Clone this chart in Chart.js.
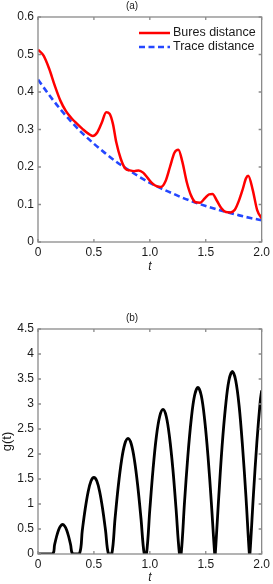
<!DOCTYPE html>
<html>
<head>
<meta charset="utf-8">
<script src="https://cdn.jsdelivr.net/npm/chart.js@4.4.1/dist/chart.umd.min.js"></script>
<style>
  html, body { margin: 0; padding: 0; background: #fff; }
  canvas { display: block; }
</style>
</head>
<body>
<canvas id="chartA" width="273" height="290"></canvas>
<canvas id="chartB" width="273" height="294"></canvas>
<script>
// Panel (a): Bures and trace distance
const tBures = [0, 0.05, 0.1, 0.15, 0.2, 0.25, 0.3, 0.35, 0.4, 0.45, 0.49, 0.53, 0.57, 0.61, 0.64, 0.67,
    0.70, 0.74, 0.78, 0.82, 0.86, 0.9, 0.94, 0.98, 1.02, 1.06, 1.10, 1.14, 1.18, 1.22, 1.255, 1.29,
    1.33, 1.37, 1.41, 1.45, 1.49, 1.53, 1.56, 1.60, 1.64, 1.68, 1.72, 1.76, 1.80, 1.83, 1.86, 1.88,
    1.92, 1.96, 2.0];
const bures = [0.513, 0.497, 0.462, 0.417, 0.377, 0.349, 0.330, 0.315, 0.301, 0.289, 0.283, 0.292,
    0.318, 0.346, 0.342, 0.315, 0.266, 0.222, 0.196, 0.191, 0.189, 0.191, 0.185, 0.171, 0.157, 0.149,
    0.147, 0.162, 0.200, 0.238, 0.246, 0.215, 0.160, 0.123, 0.106, 0.105, 0.116, 0.127, 0.128, 0.110,
    0.090, 0.080, 0.079, 0.086, 0.113, 0.140, 0.170, 0.177, 0.139, 0.085, 0.063];
const tTrace = [0, 0.1, 0.2, 0.3, 0.4, 0.5, 0.6, 0.7, 0.8, 0.9, 1.0, 1.1, 1.2, 1.3, 1.4, 1.5, 1.6, 1.7, 1.8, 1.9, 2.0];
const trace = [0.433, 0.392, 0.354, 0.320, 0.289, 0.262, 0.237, 0.214, 0.194, 0.175, 0.158, 0.143,
    0.130, 0.117, 0.106, 0.096, 0.087, 0.079, 0.071, 0.064, 0.058];

// Panel (b): g(t)
const tG = [0, 0.13, 0.148, 0.166, 0.184, 0.202, 0.22, 0.238, 0.256, 0.274, 0.292, 0.31,
    0.37, 0.396, 0.422, 0.448, 0.474, 0.5, 0.526, 0.552, 0.578, 0.604, 0.63,
    0.66, 0.689, 0.718, 0.747, 0.776, 0.805, 0.834, 0.863, 0.892, 0.921, 0.95,
    0.97, 1.0, 1.029, 1.058, 1.088, 1.118, 1.147, 1.176, 1.206, 1.235, 1.265,
    1.28, 1.31, 1.34, 1.37, 1.40, 1.43, 1.46, 1.49, 1.52, 1.55, 1.58,
    1.585, 1.616, 1.646, 1.677, 1.707, 1.738, 1.768, 1.799, 1.829, 1.86, 1.89,
    1.895, 1.926, 1.957, 1.988, 2.0];
const gValues = [0, 0, 0.18, 0.35, 0.48, 0.56, 0.59, 0.56, 0.48, 0.35, 0.18, 0,
    0, 0.47, 0.90, 1.24, 1.46, 1.53, 1.46, 1.24, 0.90, 0.47, 0,
    0, 0.71, 1.36, 1.87, 2.20, 2.31, 2.20, 1.87, 1.36, 0.71, 0,
    0, 0.89, 1.70, 2.34, 2.75, 2.89, 2.75, 2.34, 1.70, 0.89, 0,
    0, 1.03, 1.96, 2.69, 3.17, 3.33, 3.17, 2.69, 1.96, 1.03, 0,
    0, 1.13, 2.15, 2.95, 3.47, 3.65, 3.47, 2.95, 2.15, 1.13, 0,
    0, 1.17, 2.23, 3.07, 3.27];

// Tick labels
const xTickLabels = ['0', '0.5', '1.0', '1.5', '2.0'];
const yTickLabelsA = ['0', '0.1', '0.2', '0.3', '0.4', '0.5', '0.6'];
const yTickLabelsB = ['0', '0.5', '1', '1.5', '2', '2.5', '3', '3.5', '4', '4.5'];

const FONT = "'Liberation Sans', Arial, Helvetica, sans-serif";
const TEXT = '#1a1a1a';
const AXIS = '#8a8a8a';

const toPoints = (xs, ys) => xs.map((x, i) => ({ x: x, y: ys[i] }));

// Matlab-style box with inward ticks on all four sides
const boxPlugin = {
    id: 'boxPlugin',
    afterDraw(chart) {
        const { ctx, chartArea: a, scales } = chart;
        const len = 3;
        ctx.save();
        ctx.strokeStyle = AXIS;
        ctx.lineWidth = 1.3;
        ctx.beginPath();
        scales.x.ticks.forEach(t => {
            const px = scales.x.getPixelForValue(t.value);
            ctx.moveTo(px, a.bottom); ctx.lineTo(px, a.bottom - len);
            ctx.moveTo(px, a.top); ctx.lineTo(px, a.top + len);
        });
        scales.y.ticks.forEach(t => {
            const py = scales.y.getPixelForValue(t.value);
            ctx.moveTo(a.left, py); ctx.lineTo(a.left + len, py);
            ctx.moveTo(a.right, py); ctx.lineTo(a.right - len, py);
        });
        ctx.stroke();
        ctx.strokeRect(a.left, a.top, a.right - a.left, a.bottom - a.top);
        ctx.restore();
    }
};

// Legend drawn inside the plot area, top right
const insideLegend = {
    id: 'insideLegend',
    afterDraw(chart) {
        const { ctx, chartArea: a } = chart;
        ctx.save();
        ctx.font = '12.5px ' + FONT;
        ctx.textBaseline = 'middle';
        ctx.fillStyle = TEXT;
        chart.data.datasets.forEach((ds, i) => {
            const y = a.top + 16 + i * 14;
            ctx.strokeStyle = ds.borderColor;
            ctx.lineWidth = ds.borderWidth;
            ctx.setLineDash(ds.borderDash || []);
            ctx.beginPath();
            ctx.moveTo(a.left + 101, y);
            ctx.lineTo(a.left + 132, y);
            ctx.stroke();
            ctx.setLineDash([]);
            ctx.fillText(ds.label, a.left + 135, y);
        });
        ctx.restore();
    }
};

function baseScales(yMax, yStep, yLabels, xTitlePad, yTitle, xHeight) {
    return {
        x: {
            type: 'linear',
            min: 0,
            max: 2,
            ticks: {
                stepSize: 0.5,
                padding: 3,
                color: TEXT,
                font: { family: FONT, size: 12 },
                maxRotation: 0,
                callback: (v, i) => xTickLabels[i]
            },
            grid: { display: false, drawTicks: false },
            border: { display: false },
            title: {
                display: true,
                text: 't',
                color: TEXT,
                font: { family: FONT, size: 12, style: 'italic', lineHeight: 1 },
                padding: { top: 0, bottom: xTitlePad }
            },
            afterFit: s => { s.height = xHeight; }
        },
        y: {
            min: 0,
            max: yMax,
            ticks: {
                stepSize: yStep,
                padding: 4,
                color: TEXT,
                font: { family: FONT, size: 12 },
                callback: (v, i) => yLabels[i]
            },
            grid: { display: false, drawTicks: false },
            border: { display: false },
            title: {
                display: !!yTitle,
                text: yTitle || '',
                color: TEXT,
                font: { family: FONT, size: 13, lineHeight: 1.2 },
                padding: { top: 0, bottom: 0 }
            },
            afterFit: s => { s.width = 38; }
        }
    };
}

new Chart(document.getElementById('chartA'), {
    type: 'line',
    data: {
        datasets: [
            {
                label: 'Bures distance',
                data: toPoints(tBures, bures),
                borderColor: '#ff0000',
                borderWidth: 2.5,
                pointRadius: 0,
                cubicInterpolationMode: 'monotone',
                fill: false
            },
            {
                label: 'Trace distance',
                data: toPoints(tTrace, trace),
                borderColor: '#2447ff',
                borderWidth: 2.6,
                borderDash: [6, 3.5],
                pointRadius: 0,
                cubicInterpolationMode: 'monotone',
                fill: false
            }
        ]
    },
    options: {
        responsive: false,
        animation: false,
        devicePixelRatio: 1,
        layout: { padding: { left: 0, right: 9, top: 0, bottom: 0 } },
        plugins: {
            legend: { display: false },
            tooltip: { enabled: false },
            title: {
                display: true,
                text: '(a)',
                color: TEXT,
                font: { family: FONT, size: 10, weight: 'normal', lineHeight: 1.2 },
                padding: { top: 0, bottom: 5 }
            }
        },
        scales: baseScales(0.6, 0.1, yTickLabelsA, 17, null, 48)
    },
    plugins: [boxPlugin, insideLegend]
});

new Chart(document.getElementById('chartB'), {
    type: 'line',
    data: {
        datasets: [
            {
                label: 'g(t)',
                data: toPoints(tG, gValues),
                borderColor: '#000000',
                borderWidth: 2.8,
                pointRadius: 0,
                tension: 0.35,
                fill: false
            }
        ]
    },
    options: {
        responsive: false,
        animation: false,
        devicePixelRatio: 1,
        layout: { padding: { left: 0, right: 9, top: 0, bottom: 0 } },
        plugins: {
            legend: { display: false },
            tooltip: { enabled: false },
            title: {
                display: true,
                text: '(b)',
                color: TEXT,
                font: { family: FONT, size: 10, weight: 'normal', lineHeight: 1.2 },
                padding: { top: 22, bottom: 5 }
            }
        },
        scales: baseScales(4.5, 0.5, yTickLabelsB, 0, 'g(t)', 30)
    },
    plugins: [boxPlugin]
});
</script>
</body>
</html>
